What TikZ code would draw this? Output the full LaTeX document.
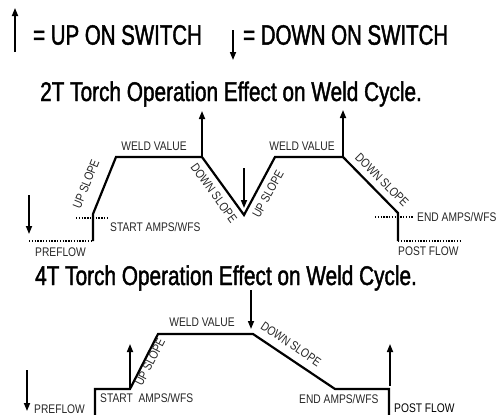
\documentclass[tikz,border=0pt]{standalone}
\usepackage{fontspec}
\setmainfont{Liberation Sans}[FakeStretch=0.82]
\newfontfamily\hdfont{Liberation Sans}[FakeStretch=0.77, FakeBold=1.5]
\newfontfamily\lgfont{Liberation Sans}[FakeStretch=0.73, FakeBold=1.5]
\usetikzlibrary{arrows.meta}
\begin{document}
\begin{tikzpicture}[x=1pt,y=-1pt,
  curve/.style={line width=2.2pt, line join=miter},
  dots/.style={line width=1.8pt, dash pattern=on 1.4pt off 1.4pt},
  sw/.style={-{Triangle[length=8pt,width=6pt]}, line width=1.6pt},
  lbl/.style={font=\fontsize{12.5}{12.5}\selectfont, text=black!85, inner sep=0pt},
  big/.style={font=\lgfont\fontsize{28}{28}\selectfont, inner sep=0pt},
  ttl/.style={font=\hdfont\fontsize{27}{27}\selectfont, inner sep=0pt},
]
\useasboundingbox (0,0) rectangle (501,415);

% legend
\coordinate (ua0) at (15,52); \coordinate (ua1) at (15,8);
\draw[sw] (ua0) -- (ua1);
\node[big, anchor=west] (upt) at (33,35) {= UP ON SWITCH};
\coordinate (da0) at (233,30); \coordinate (da1) at (233,60);
\draw[sw] (da0) -- (da1);
\node[big, anchor=west] (dnt) at (243,35) {= DOWN ON SWITCH};

% titles
\node[ttl, anchor=base west] (t2) at (40,101) {2T Torch Operation Effect on Weld Cycle.};
\node[ttl, anchor=base west] (t4) at (35,285) {4T Torch Operation Effect on Weld Cycle.};

% ---- 2T cycle ----
\coordinate (a1) at (93,241);
\coordinate (a2) at (93,214);
\coordinate (a3) at (116,157);
\coordinate (a4) at (202,157);
\coordinate (a5) at (244,215);
\coordinate (a6) at (275,157);
\coordinate (a7) at (343,157);
\coordinate (a8) at (398,213);
\coordinate (a9) at (398,241);
\draw[curve] (a1) -- (a2) -- (a3) -- (a4) -- (a5) -- (a6) -- (a7) -- (a8) -- (a9);
\coordinate (pf0) at (29,241);
\coordinate (sa0) at (76,218); \coordinate (sa1) at (107,218);
\coordinate (ea0) at (375,217); \coordinate (ea1) at (413,217);
\coordinate (po1) at (460,241);
\draw[dots] (pf0) -- (a1);
\draw[dots] (sa0) -- (sa1);
\draw[dots] (ea0) -- (ea1);
\draw[dots] (a9) -- (po1);

\coordinate (b1) at (29,195); \coordinate (b2) at (29,234);
\draw[sw] (b1) -- (b2);
\coordinate (c2) at (202,111);
\draw[sw] (a4) -- (c2);
\coordinate (d1) at (244,168); \coordinate (d2) at (244,208);
\draw[sw] (d1) -- (d2);
\coordinate (e2) at (343,110);
\draw[sw] (a7) -- (e2);

\node[lbl] (wv1) at (154,146) {WELD VALUE};
\node[lbl] (wv2) at (302,146) {WELD VALUE};
\node[lbl, anchor=west] (sa) at (110,227) {START AMPS/WFS};
\node[lbl, anchor=west] (pf) at (35,252) {PREFLOW};
\node[lbl, anchor=west] (pof) at (398,251) {POST FLOW};
\node[lbl, anchor=west] (ea) at (417,217) {END AMPS/WFS};
\node[lbl, rotate=68] (us1) at (86,184) {UP SLOPE};
\node[lbl, rotate=-54] (ds1) at (214,193) {DOWN SLOPE};
\node[lbl, rotate=61] (us2) at (268,194) {UP SLOPE};
\node[lbl, rotate=-45] (ds2) at (382,180) {DOWN SLOPE};

% ---- 4T cycle ----
\coordinate (f1) at (95,415);
\coordinate (f2) at (95,389);
\coordinate (f3) at (130,389);
\coordinate (f4) at (158,334);
\coordinate (f5) at (253,334);
\coordinate (f6) at (335,389);
\coordinate (f7) at (389,389);
\coordinate (f8) at (389,415);
\draw[curve] (f1) -- (f2) -- (f3) -- (f4) -- (f5) -- (f6) -- (f7) -- (f8);

\coordinate (g1) at (27,370); \coordinate (g2) at (27,411);
\draw[sw] (g1) -- (g2);
\coordinate (h1) at (130,388); \coordinate (h2) at (130,344);
\draw[sw] (h1) -- (h2);
\coordinate (k1) at (251,290); \coordinate (k2) at (251,329);
\draw[sw] (k1) -- (k2);
\coordinate (m1) at (390,386); \coordinate (m2) at (390,344);
\draw[sw] (m1) -- (m2);

\node[lbl] (wv3) at (202,322) {WELD VALUE};
\node[lbl, anchor=west] (sa4) at (100,398) {START\ \ AMPS/WFS};
\node[lbl, anchor=west] (pf4) at (34,409) {PREFLOW};
\node[lbl, anchor=west] (ea4) at (299,399) {END AMPS/WFS};
\node[lbl, anchor=west, text=black] (po4) at (394,408.5) {POST FLOW};
\node[lbl, rotate=63] (us4) at (150,362) {UP SLOPE};
\node[lbl, rotate=-34] (ds4) at (291,344) {DOWN SLOPE};
\end{tikzpicture}
\end{document}
